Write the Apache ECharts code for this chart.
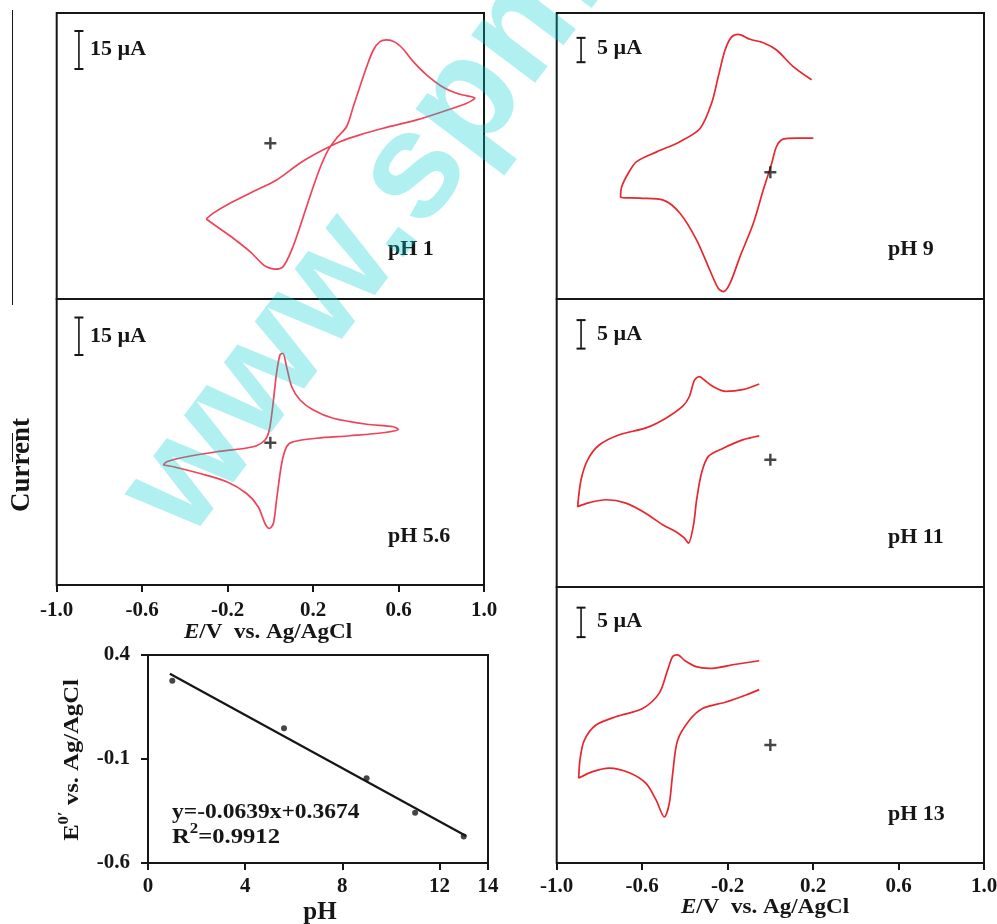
<!DOCTYPE html>
<html><head><meta charset="utf-8">
<script src="https://cdn.jsdelivr.net/npm/echarts@6/dist/echarts.min.js"></script>
<style>html,body{margin:0;padding:0;background:#fff}#c{width:997px;height:924px}</style>
</head><body><div id="c"></div>
<script>
// ---- Cyclic voltammograms: potential E (V vs Ag/AgCl) and current I (µA) ----
const ph1E = [-0.300,-0.251,-0.174,-0.095,-0.033,-0.002,0.022,0.060,0.100,0.139,0.185,0.232,0.271,0.310,0.357,0.388,0.419,0.451,0.482,0.513,0.544,0.583,0.622,0.669,0.731,0.809,0.887,0.957,0.919,0.809,0.685,0.528,0.419,0.326,0.232,0.138,0.029,-0.080,-0.189,-0.267,-0.300];
const ph1I = [-29.9,-32.9,-37.5,-42.8,-48.0,-49.3,-49.7,-48.7,-42.1,-32.9,-21.1,-9.9,-2.6,2.0,6.6,14.4,22.3,30.2,36.8,40.1,40.8,39.9,37.1,32.2,27.0,22.1,19.3,17.8,15.8,12.5,9.2,5.9,3.3,0.6,-3.3,-7.9,-14.5,-19.1,-23.7,-27.6,-29.9];

const ph56E = [-0.501,-0.454,-0.329,-0.204,-0.111,-0.057,-0.025,-0.005,0.014,0.029,0.053,0.076,0.107,0.217,0.372,0.528,0.599,0.575,0.451,0.294,0.201,0.139,0.100,0.076,0.058,0.045,0.029,0.011,-0.005,-0.025,-0.080,-0.251,-0.392,-0.485,-0.501];
const ph56I = [-8.9,-9.6,-12.3,-15.6,-20.3,-25.6,-32.3,-34.3,-32.3,-22.9,-8.3,-1.6,0.4,1.8,2.8,4.0,5.3,6.4,7.4,9.8,13.1,17.1,22.4,30.4,35.8,35.1,27.8,14.4,5.1,1.1,-1.6,-3.6,-5.6,-7.6,-8.9];

const ph9E = [0.193,0.107,0.029,-0.033,-0.095,-0.150,-0.181,-0.212,-0.244,-0.275,-0.329,-0.423,-0.532,-0.626,-0.665,-0.696,-0.701,-0.610,-0.501,-0.423,-0.345,-0.283,-0.244,-0.220,-0.189,-0.142,-0.080,-0.033,0.006,0.029,0.060,0.123,0.201];
const ph9I = [19.0,21.7,25.1,26.6,27.3,28.3,27.8,25.1,19.6,14.2,9.0,6.3,4.2,2.2,-0.2,-3.0,-5.1,-5.3,-5.7,-8.4,-13.9,-20.1,-23.8,-24.5,-22.8,-17.3,-10.5,-3.6,1.8,5.3,6.8,7.0,7.0];

const ph11E = [-0.052,-0.130,-0.208,-0.270,-0.309,-0.333,-0.356,-0.379,-0.410,-0.489,-0.582,-0.707,-0.801,-0.855,-0.886,-0.902,-0.847,-0.769,-0.676,-0.582,-0.504,-0.442,-0.403,-0.384,-0.360,-0.345,-0.322,-0.290,-0.223,-0.130,-0.052];
const ph11I = [13.3,12.3,12.0,12.9,14.0,14.6,13.9,11.1,9.4,7.3,5.6,4.4,2.6,0,-3.5,-8.2,-7.5,-7.0,-7.6,-9.4,-11.4,-12.6,-13.7,-14.6,-11.5,-7.0,-2.3,0.6,2.0,3.5,4.2];

const ph13E = [-0.052,-0.161,-0.286,-0.348,-0.403,-0.434,-0.457,-0.481,-0.520,-0.598,-0.723,-0.816,-0.871,-0.891,-0.897,-0.832,-0.754,-0.660,-0.582,-0.535,-0.496,-0.473,-0.457,-0.434,-0.379,-0.317,-0.208,-0.114,-0.052];
const ph13I = [14.3,13.7,13.0,13.3,14.4,15.3,15.0,12.7,8.8,6.2,4.8,3.4,0.8,-2.5,-5.6,-4.5,-3.9,-4.7,-6.5,-9.3,-12.2,-9.9,-4.8,0.8,4.2,6.2,7.3,8.5,9.4];

// ---- Formal potential vs pH ----
const phValues = [1, 5.6, 9, 11, 13];
const e0Values = [0.276, 0.048, -0.193, -0.358, -0.473];
const fitPH = [0.9, 13.1];
const fitE0 = [0.31, -0.47];

// ---- tick labels ----
const cvTicks = [-1.0, -0.6, -0.2, 0.2, 0.6, 1.0];
const phTicks = [0, 4, 8, 12, 14];
const e0Ticks = [-0.6, -0.1, 0.4];

const zip = (a, b) => a.map((v, i) => [v, b[i]]);
const FONT = '"Liberation Serif", "Times New Roman", serif';
const INK = '#161616';

const panels = [
  {E: ph1E, I: ph1I, grid: {left: 56.7, top: 13, width: 427.3, height: 286}, y: [-61.5, 51.4], color: '#ef4358', bar: [-0.896, 29.3, 44.3], axis: false},
  {E: ph56E, I: ph56I, grid: {left: 56.7, top: 299, width: 427.3, height: 286}, y: [-56.9, 57.5], color: '#ef4358', bar: [-0.896, 35.1, 50.1], axis: true},
  {E: ph9E, I: ph9I, grid: {left: 556.7, top: 13, width: 427.3, height: 286}, y: [-26.0, 32.7], color: '#e8262e', bar: [-0.886, 22.6, 27.6], axis: false},
  {E: ph11E, I: ph11I, grid: {left: 556.7, top: 299, width: 427.3, height: 288}, y: [-22.3, 28.2], color: '#e8262e', bar: [-0.886, 19.5, 24.5], axis: false},
  {E: ph13E, I: ph13I, grid: {left: 556.7, top: 587, width: 427.3, height: 276}, y: [-20.0, 26.8], color: '#e8262e', bar: [-0.886, 18.3, 23.3], axis: true}
];

const grids = [], xAxes = [], yAxes = [], series = [];
const labelFont = {fontFamily: FONT, fontWeight: 'bold', fontSize: 21, color: INK};
const PLUS = 'path://M4,0H6V4H10V6H6V10H4V6H0V4H4Z';
const gridBase = {show: true, borderColor: INK, borderWidth: 2, backgroundColor: 'transparent', containLabel: false, outerBoundsMode: 'none'};

panels.forEach((p, i) => {
  grids.push(Object.assign({}, gridBase, p.grid));
  xAxes.push({
    gridIndex: i, type: 'value', min: -1, max: 1, interval: 0.4, position: 'bottom',
    axisLine: {show: false, onZero: false},
    splitLine: {show: false},
    axisTick: {show: p.axis, inside: false, length: 7, lineStyle: {color: INK, width: 2}, customValues: cvTicks},
    axisLabel: Object.assign({show: p.axis, margin: i === 1 ? 15 : 13, customValues: cvTicks, formatter: v => v.toFixed(1)}, labelFont)
  });
  yAxes.push({gridIndex: i, type: 'value', min: p.y[0], max: p.y[1], show: false, splitLine: {show: false}, axisLine: {onZero: false}});
  series.push({
    type: 'line', xAxisIndex: i, yAxisIndex: i, data: zip(p.E, p.I),
    showSymbol: false, smooth: 0.3, lineStyle: {color: p.color, width: 1.7}, z: 3
  });
  // scale bar
  series.push({
    type: 'line', xAxisIndex: i, yAxisIndex: i,
    data: [[p.bar[0], p.bar[1]], [p.bar[0], p.bar[2]]],
    symbol: 'rect', symbolSize: [9, 2], showSymbol: true,
    lineStyle: {color: INK, width: 1.6}, itemStyle: {color: INK}, z: 4
  });
  // origin cross
  series.push({
    type: 'scatter', xAxisIndex: i, yAxisIndex: i, data: [[0, 0]],
    symbol: PLUS, symbolSize: 12, itemStyle: {color: INK}, z: 5
  });
});

// E0 vs pH panel
grids.push(Object.assign({}, gridBase, {left: 148, top: 655, width: 340, height: 208}));
xAxes.push({
  gridIndex: 5, type: 'value', min: 0, max: 14, position: 'bottom',
  axisLine: {show: false, onZero: false}, splitLine: {show: false},
  axisTick: {show: true, inside: false, length: 7, lineStyle: {color: INK, width: 2}, customValues: phTicks},
  axisLabel: Object.assign({margin: 13, customValues: phTicks, formatter: v => String(v)}, labelFont)
});
yAxes.push({
  gridIndex: 5, type: 'value', min: -0.6, max: 0.4, interval: 0.5, position: 'left',
  axisLine: {show: false, onZero: false}, splitLine: {show: false},
  axisTick: {show: true, inside: false, length: 7, lineStyle: {color: INK, width: 2}, customValues: e0Ticks},
  axisLabel: Object.assign({margin: 18, customValues: e0Ticks, formatter: v => v.toFixed(1)}, labelFont)
});
series.push({
  type: 'line', xAxisIndex: 5, yAxisIndex: 5, data: zip(fitPH, fitE0),
  showSymbol: false, lineStyle: {color: INK, width: 2.2}, z: 3
});
series.push({
  type: 'scatter', xAxisIndex: 5, yAxisIndex: 5, data: zip(phValues, e0Values),
  symbol: 'circle', symbolSize: 6, itemStyle: {color: INK}, z: 4
});

// ---- text annotations ----
function txt(x, y, text, o) {
  o = o || {};
  return {
    type: 'text', x: x, y: y, rotation: o.rot || 0, scaleX: o.sx || 1, z: 50,
    style: {
      text: text, fill: INK, align: o.align || 'left', verticalAlign: 'middle',
      font: 'bold ' + (o.size || 20) + 'px ' + FONT, rich: o.rich
    }
  };
}
const supRich = {
  b: {fontFamily: FONT, fontWeight: 'bold', fontSize: 22, fill: INK, verticalAlign: 'bottom', lineHeight: 26},
  s: {fontFamily: FONT, fontWeight: 'bold', fontSize: 15, fill: INK, verticalAlign: 'top', lineHeight: 26}
};
const evRich = {
  i: {fontFamily: FONT, fontWeight: 'bold', fontStyle: 'italic', fontSize: 21, fill: INK},
  n: {fontFamily: FONT, fontWeight: 'bold', fontSize: 21, fill: INK}
};

const graphic = [
  txt(90, 50, '15 µA', {sx: 1.1}), txt(90, 337, '15 µA', {sx: 1.1}),
  txt(597, 49, '5 µA', {sx: 1.1}), txt(597, 335, '5 µA', {sx: 1.1}), txt(597, 622, '5 µA', {sx: 1.1}),
  txt(388, 250, 'pH 1', {sx: 1.1}), txt(388, 537, 'pH 5.6', {sx: 1.1}),
  txt(888, 250, 'pH 9', {sx: 1.1}), txt(888, 538, 'pH 11', {sx: 1.1}), txt(888, 815, 'pH 13', {sx: 1.1}),
  txt(268, 633, '{i|E}{n|/V  vs. Ag/AgCl}', {align: 'center', rich: evRich, sx: 1.1}),
  txt(765, 908, '{i|E}{n|/V  vs. Ag/AgCl}', {align: 'center', rich: evRich, sx: 1.1}),
  txt(320, 913, 'pH', {align: 'center', size: 25}),
  txt(22, 465, 'Current', {align: 'center', size: 27, rot: Math.PI / 2}),
  txt(70, 760, '{b|E}{s|0′}{b| vs. Ag/AgCl}', {align: 'center', rot: Math.PI / 2, rich: supRich, sx: 1.12}),
  txt(172, 813, 'y=-0.0639x+0.3674', {size: 21, sx: 1.12}),
  txt(172, 835, '{b|R}{s|2}{b|=0.9912}', {rich: supRich, sx: 1.12}),
  {type: 'line', z: 50, shape: {x1: 12.5, y1: 10, x2: 12.5, y2: 305}, style: {stroke: INK, lineWidth: 1}},
  {type: 'line', z: 50, shape: {x1: 12.5, y1: 433, x2: 12.5, y2: 462}, style: {stroke: INK, lineWidth: 1}},
  // watermark
  {type: 'text', x: 155, y: 517, rotation: 0.924, z: 100, silent: true,
   style: {text: 'www.spm.com.cn', fill: 'rgba(0,206,209,0.31)', align: 'left', verticalAlign: 'middle',
           font: 'bold 151px "Liberation Sans", Arial, sans-serif'}}
];

const chart = echarts.init(document.getElementById('c'), null, {renderer: 'canvas'});
chart.setOption({
  animation: false,
  backgroundColor: '#ffffff',
  grid: grids, xAxis: xAxes, yAxis: yAxes, series: series, graphic: graphic
});
</script></body></html>
